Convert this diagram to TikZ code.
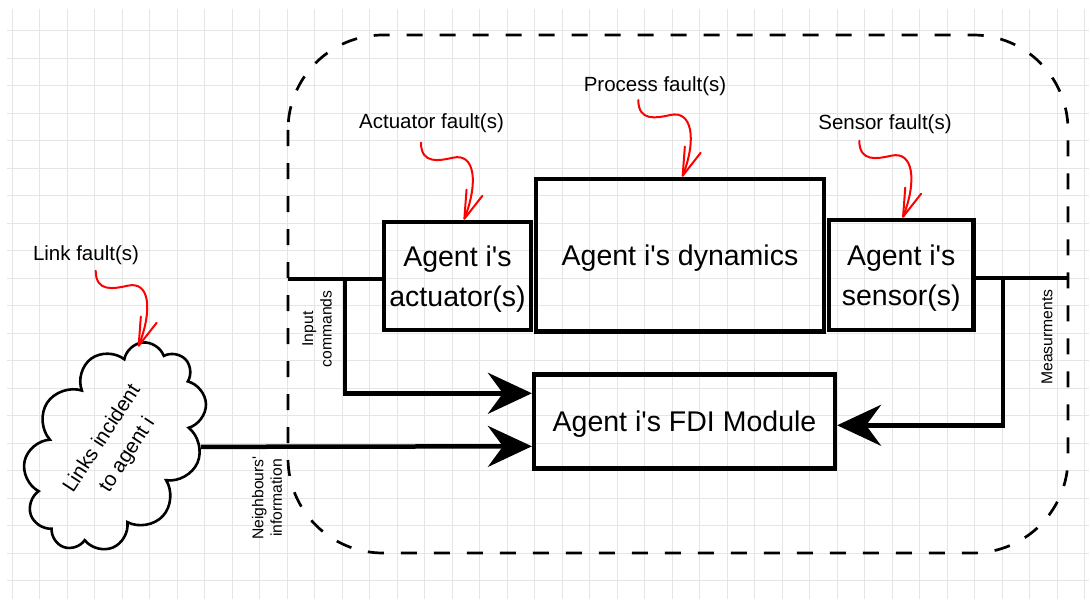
\documentclass[tikz,border=0pt]{standalone}
\usepackage{fontspec}
\setmainfont{Liberation Sans}[Ligatures=TeXOff]
\usetikzlibrary{arrows.meta,shapes.symbols}
\newcommand\blockfont{\fontsize{28.5}{40.5}\selectfont}
\newcommand\faultfont{\fontsize{20.5}{24}\selectfont}
\newcommand\cloudfont{\fontsize{20.5}{30}\selectfont}
\newcommand\sidefont{\fontsize{15.7}{18.5}\selectfont}

\begin{document}
\begin{tikzpicture}[x=1pt, y=-1pt,
  gridline/.style={black!10, line width=1pt},
  block/.style={draw, line width=4.5pt, align=center, font=\blockfont, inner sep=0pt, text depth=0pt},
  bus/.style={line width=4.5pt},
  flow/.style={bus, -{Stealth[length=44pt, width=41pt, inset=15pt]}},
  fault/.style={red, line width=2pt, line cap=round, -{Straight Barb[length=28pt, width=17pt, round]}},
  faultlbl/.style={font=\faultfont, anchor=base},
  sidelbl/.style={font=\sidefont, rotate=90, align=center}
]
\fill[white] (0,0) rectangle (1089,599);
\useasboundingbox (0,0) rectangle (1089,599);
% grid paper
\foreach \gx in {0,...,39}
  \draw[gridline] ({12.3+27.5*\gx},9) -- ({12.3+27.5*\gx},599);
\foreach \gy in {0,...,20}
  \draw[gridline] (7,{30.7+27.5*\gy}) -- (1089,{30.7+27.5*\gy});

% agent i boundary
\draw[line width=2.7pt, dash pattern=on 16pt off 17pt, rounded corners=95pt] (288,35) rectangle (1068,553);

% blocks
\node[block, minimum width=147pt, minimum height=108pt] (act) at (457.5,276) {Agent i's\\actuator(s)};
\node[block, minimum width=288pt, minimum height=152.7pt] (dyn) at (680,255.3) {Agent i's dynamics};
\node[block, minimum width=144.3pt, minimum height=110pt] (sens) at (901.2,275) {Agent i's\\sensor(s)};
\node[block, minimum width=300.7pt, minimum height=94pt] (fdi) at (684.5,421.3) {Agent i's FDI Module};
\node[cloud, draw, line width=2.6pt, cloud puffs=11, cloud ignores aspect, minimum width=226pt, minimum height=162pt,
  inner sep=0pt, rotate=57, align=center, font=\cloudfont] (link) at (115,447) {Links incident\\to agent i};

% fault labels
\node[faultlbl] (actlbl) at (431.5,128.3) {Actuator fault(s)};
\node[faultlbl] (proclbl) at (655,91.7) {Process fault(s)};
\node[faultlbl] (senslbl) at (885,130) {Sensor fault(s)};
\node[faultlbl] (linklbl) at (86,260) {Link fault(s)};

% signal labels
\node[sidelbl] (inlbl) at (317,329) {Input\\commands};
\node[sidelbl] (nblbl) at (267,498) {Neighbours'\\information};
\node[sidelbl] (measlbl) at (1047,337) {Measurments};

% signals
\coordinate (inL) at (288,279);
\coordinate (outR) at (1068,278);
\coordinate (tapL) at (345,279);
\coordinate (tapR) at (1003,278);
\draw[bus] (inL) -- (act.west |- inL);
\draw[bus] (sens.east |- outR) -- (outR);
\draw[flow] (tapL) |- ([yshift=28pt]fdi.west);
\draw[flow] (tapR) |- ([yshift=-4pt]fdi.east);
\draw[flow] (link) -- ([yshift=-25pt]fdi.west);

% faults
\coordinate (actF) at (421,142.7);
\coordinate (procF) at (638.3,100);
\coordinate (sensF) at (859.3,140.7);
\coordinate (linkF) at (95.7,270.7);
\coordinate (linkT) at (138.3,346.7);
\draw[fault] (actF) .. controls +(0,22) and +(-13.5,3) .. ++(32,15)
  .. controls +(22,-5) and +(14.4,-37.2) .. ([xshift=6.5pt]act.north);
\draw[fault] (procF) .. controls +(0,22) and +(-13.5,3) .. ++(32,15)
  .. controls +(22,-5) and +(14.4,-37.2) .. ([xshift=2.3pt]dyn.north);
\draw[fault] (sensF) .. controls +(0,22) and +(-13.5,3) .. ++(32,15)
  .. controls +(22,-5) and +(14.4,-37.2) .. ([xshift=1.5pt]sens.north);
\draw[fault] (linkF) .. controls +(0,22) and +(-13.5,3) .. ++(32,15)
  .. controls +(22,-5) and +(14.4,-37.2) .. (linkT);
\end{tikzpicture}
\end{document}
